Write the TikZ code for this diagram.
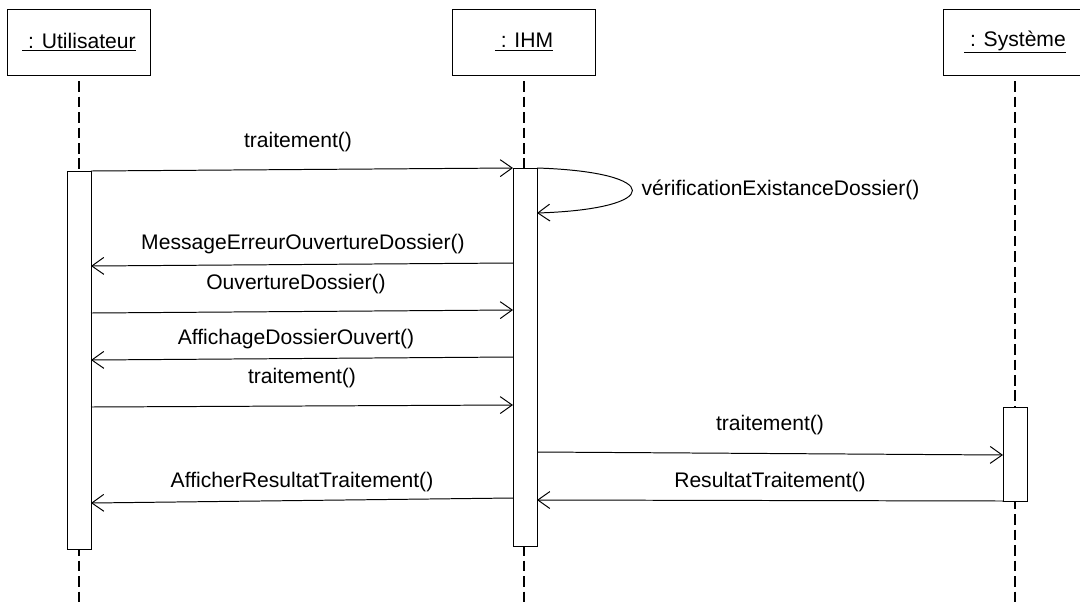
\documentclass[tikz,border=0pt]{standalone}
\usepackage{fontspec}
\setmainfont{Liberation Sans}
\usetikzlibrary{arrows.meta}

\tikzset{
    actor/.style={draw, line width=0.7pt, minimum width=3.55cm, minimum height=1.65cm, inner sep=0pt},
    lifeline/.style={dashed, line width=2pt, dash pattern=on 7.5pt off 3.5pt},
    actbar/.style={draw, line width=0.7pt, fill=white},
    msg/.style={line width=0.7pt, -{Straight Barb[length=8.5pt, width=12pt, line width=0.7pt]}},
    msglabel/.style={inner sep=1pt}
}

\begin{document}
\begin{tikzpicture}[
    % pixel grid: 1080 x 607, y grows downwards
    x=0.025cm,
    y=-0.025cm,
    font=\fontsize{15}{18}\selectfont
]
    \useasboundingbox (0,0) rectangle (1080,607);

    % Actors
    \node[actor] (util) at (79,42) {\underline{\ : Utilisateur}};
    \node[actor] (ihm) at (524,42) {\underline{\ : IHM}};
    \node[actor] (sys) at (1015,42) {\underline{\ : Syst\`eme}};

    % Lifeline end points
    \coordinate (utilEnd) at (79,607);
    \coordinate (ihmEnd) at (524,607);
    \coordinate (sysEnd) at (1015,607);

    % Lifelines
    \draw[lifeline] ([yshift=-4pt]util.south) -- (utilEnd);
    \draw[lifeline] ([yshift=-4pt]ihm.south) -- (ihmEnd);
    \draw[lifeline] ([yshift=-4pt]sys.south) -- (sysEnd);

    % Activation bars
    \draw[actbar] (67,171) rectangle (91,549);
    \draw[actbar] (513,168) rectangle (537,546);
    \draw[actbar] (1003,407) rectangle (1027,501);

    % Message end points
    \coordinate (u1) at (91,171);   \coordinate (i1) at (513,168);
    \coordinate (s1) at (537,168);  \coordinate (s2) at (537,213);
    \coordinate (i3) at (513,263);  \coordinate (u3) at (91,266);
    \coordinate (u4) at (91,313);   \coordinate (i4) at (513,310);
    \coordinate (i5) at (513,357);  \coordinate (u5) at (91,360);
    \coordinate (u6) at (91,407);   \coordinate (i6) at (513,405);
    \coordinate (i7) at (537,452);  \coordinate (y7) at (1003,455);
    \coordinate (y8) at (1003,501); \coordinate (i8) at (537,500);
    \coordinate (i9) at (513,498);  \coordinate (u9) at (91,503);

    % Messages
    \draw[msg] (u1) -- (i1);
    \draw[msg] (s1) .. controls (664,172) and (664,209) .. (s2);
    \draw[msg] (i3) -- (u3);
    \draw[msg] (u4) -- (i4);
    \draw[msg] (i5) -- (u5);
    \draw[msg] (u6) -- (i6);
    \draw[msg] (i7) -- (y7);
    \draw[msg] (y8) -- (i8);
    \draw[msg] (i9) -- (u9);

    % Labels
    \node[msglabel] (l1) at (298,142) {traitement()};
    \node[msglabel, anchor=west] (l2) at (640,190) {v\'erificationExistanceDossier()};
    \node[msglabel] (l3) at (303,244) {MessageErreurOuvertureDossier()};
    \node[msglabel] (l4) at (296,284) {OuvertureDossier()};
    \node[msglabel] (l5) at (296,339) {AffichageDossierOuvert()};
    \node[msglabel] (l6) at (302,378) {traitement()};
    \node[msglabel] (l7) at (770,425) {traitement()};
    \node[msglabel] (l8) at (770,482) {ResultatTraitement()};
    \node[msglabel] (l9) at (302,482) {AfficherResultatTraitement()};
\end{tikzpicture}
\end{document}
